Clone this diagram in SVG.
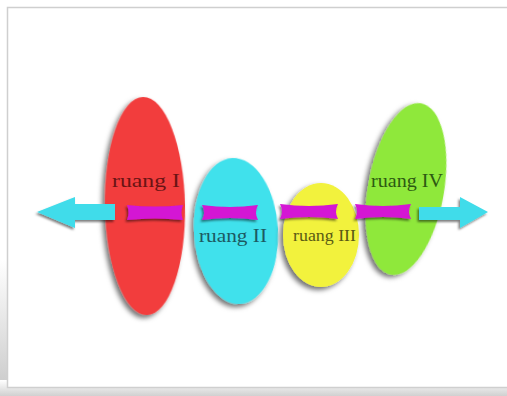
<svg xmlns="http://www.w3.org/2000/svg" width="507" height="396" viewBox="0 0 507 396">
  <defs>
    <filter id="sh" x="-30%" y="-20%" width="160%" height="140%">
      <feDropShadow dx="-3" dy="3" stdDeviation="2.5" flood-color="#000" flood-opacity="0.55"/>
    </filter>
    <filter id="shs" x="-20%" y="-40%" width="140%" height="180%">
      <feDropShadow dx="-1.5" dy="2" stdDeviation="1.2" flood-color="#000" flood-opacity="0.5"/>
    </filter>
    <linearGradient id="lsh" x1="0" y1="0" x2="0" y2="1">
      <stop offset="0" stop-color="#ffffff"/>
      <stop offset="1" stop-color="#c8c8c8"/>
    </linearGradient>
    <linearGradient id="bsh" x1="0" y1="0" x2="0" y2="1">
      <stop offset="0" stop-color="#ffffff"/>
      <stop offset="1" stop-color="#d0d0d0"/>
    </linearGradient>
  </defs>
  <style>
    .lbl { font-family: "Liberation Serif", "DejaVu Serif", serif; font-size: 19px; }
    .bar { fill: #d414d4; filter: url(#shs); }
    .arr { fill: #3fdcea; filter: url(#shs); }
  </style>
  <!-- background frame -->
  <rect x="0" y="0" width="507" height="396" fill="#ffffff"/>
  <rect x="0" y="260" width="8" height="136" fill="url(#lsh)"/>
  <rect x="0" y="380" width="507" height="16" fill="url(#bsh)"/>
  <rect x="7.5" y="7.5" width="510" height="380" fill="#ffffff" stroke="#cfcfcf" stroke-width="1.5"/>

  <g id="ruang1">
    <ellipse cx="145" cy="206" rx="40" ry="109" fill="#f23d3d" filter="url(#sh)" transform="rotate(-1 145 206)"/>
    <text class="lbl" x="112" y="187" fill="#6a1414" textLength="68" lengthAdjust="spacingAndGlyphs">ruang I</text>
  </g>
  <g id="ruang2">
    <ellipse cx="236" cy="231" rx="42" ry="73" fill="#3fe1ec" filter="url(#sh)" transform="rotate(-3 236 231)"/>
    <text class="lbl" x="199" y="242" fill="#1c5a62" textLength="68" lengthAdjust="spacingAndGlyphs">ruang II</text>
  </g>
  <g id="ruang3">
    <ellipse cx="321" cy="235" rx="38" ry="52" fill="#f2f23c" filter="url(#sh)"/>
    <text class="lbl" x="293" y="241" fill="#5a5a14" style="font-size:16px" textLength="63" lengthAdjust="spacingAndGlyphs">ruang III</text>
  </g>
  <g id="ruang4">
    <ellipse cx="406" cy="189" rx="38" ry="87" fill="#8fe83a" filter="url(#sh)" transform="rotate(10 406 189)"/>
    <text class="lbl" x="371" y="187" fill="#2d5a12" textLength="72" lengthAdjust="spacingAndGlyphs">ruang IV</text>
  </g>

  <g id="connectors">
    <path class="arr" d="M37,212 L75,197 L75,204 L115,204 L115,220 L75,220 L75,228 Z"/>
    <path class="arr" d="M488,212 L460,197 L460,207 L419,207 L419,220 L460,220 L460,228 Z"/>
    <path class="bar" d="M127,205 Q155,208 183,205 Q180,212.5 183,220 Q155,217 127,220 Q130,212.5 127,205 Z"/>
    <path class="bar" d="M202,205 Q230,209 258,205 Q254,212.5 258,220 Q230,216 202,220 Q206,212.5 202,205 Z"/>
    <path class="bar" d="M280,204 Q309,208 338,204 Q334,211.5 338,219 Q309,215 280,219 Q284,211.5 280,204 Z"/>
    <path class="bar" d="M355,204 Q383,208 411,204 Q407,211.5 411,219 Q383,215 355,219 Q359,211.5 355,204 Z"/>
  </g>
</svg>
